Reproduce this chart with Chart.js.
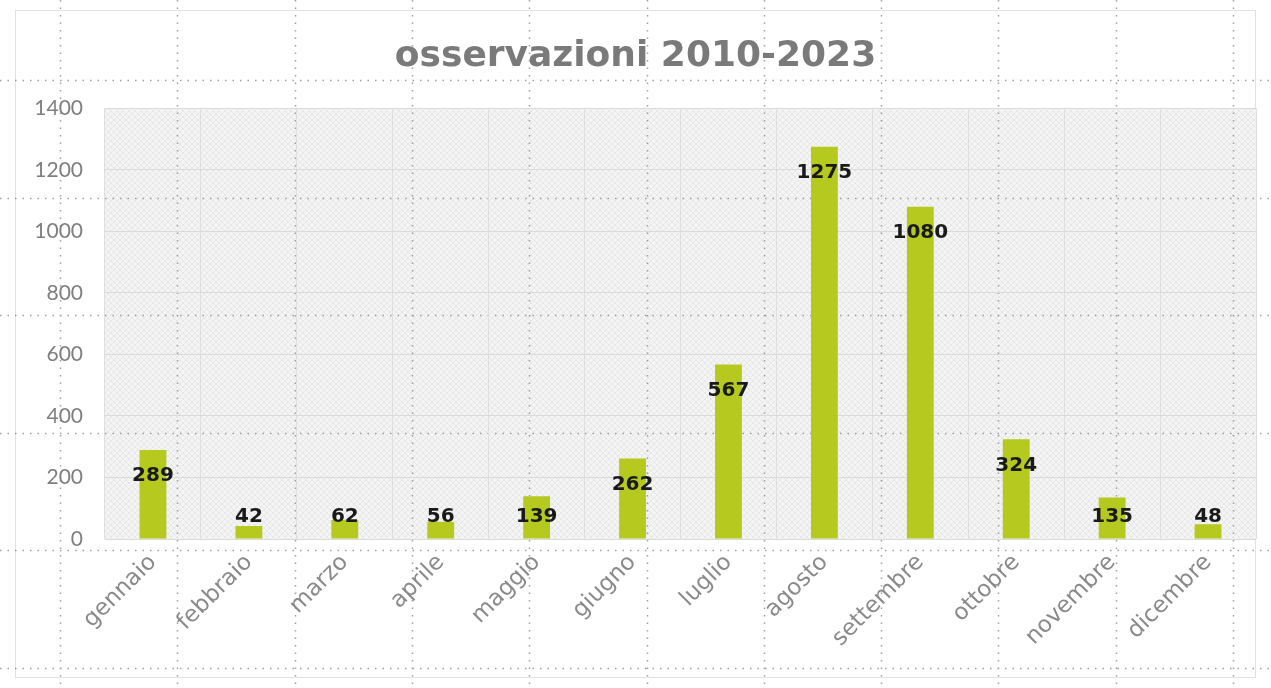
<!DOCTYPE html>
<html>
<head>
<meta charset="utf-8">
<script src="https://cdn.jsdelivr.net/npm/chart.js@4/dist/chart.umd.min.js"></script>
<style>
  html, body { margin: 0; padding: 0; background: #fff; }
  #wrap { width: 1271px; height: 688px; position: relative; }
</style>
</head>
<body>
<div id="wrap"><canvas id="chart"></canvas></div>
<script>
// dati
const months = ['gennaio','febbraio','marzo','aprile','maggio','giugno','luglio','agosto','settembre','ottobre','novembre','dicembre'];
const observations = [289, 42, 62, 56, 139, 262, 567, 1275, 1080, 324, 135, 48];
const yMax = 1400;
const yStep = 200;

const barColor = '#b6c91f';

// sfondo a righe puntinate del foglio + area del grafico tratteggiata
const sheetBackground = {
  id: 'sheetBackground',
  beforeDraw(chart) {
    const { ctx, width, height, chartArea: a } = chart;
    ctx.save();
    // cornice del grafico
    ctx.strokeStyle = '#e2e2e2';
    ctx.lineWidth = 1;
    ctx.strokeRect(15.5, 10.5, width - 31, height - 21);

    // area del tracciato: grigio chiaro con trama a rombi
    const p = document.createElement('canvas');
    p.width = 6; p.height = 6;
    const pc = p.getContext('2d');
    pc.fillStyle = '#f4f4f4';
    pc.fillRect(0, 0, 6, 6);
    pc.strokeStyle = '#e7e7e7';
    pc.lineWidth = 1;
    pc.beginPath();
    pc.moveTo(0, 0); pc.lineTo(6, 6);
    pc.moveTo(6, 0); pc.lineTo(0, 6);
    pc.stroke();
    ctx.fillStyle = ctx.createPattern(p, 'repeat');
    ctx.fillRect(a.left, a.top, a.right - a.left, a.bottom - a.top);

    // celle del foglio
    ctx.strokeStyle = 'rgba(120,120,120,0.7)';
    ctx.lineWidth = 1.5;
    ctx.setLineDash([1.5, 6]);
    ctx.beginPath();
    for (let x = 60; x < width; x += 117.3) {
      ctx.moveTo(Math.round(x) + 0.5, 0);
      ctx.lineTo(Math.round(x) + 0.5, height);
    }
    for (let y = 80; y < height; y += 117.5) {
      ctx.moveTo(0, Math.round(y) + 0.5);
      ctx.lineTo(width, Math.round(y) + 0.5);
    }
    ctx.stroke();
    ctx.restore();
  }
};

// etichette dei valori dentro la fine della barra
const valueLabels = {
  id: 'valueLabels',
  afterDatasetsDraw(chart) {
    const { ctx } = chart;
    const meta = chart.getDatasetMeta(0);
    const base = chart.scales.y.getPixelForValue(0);
    ctx.save();
    ctx.font = 'bold 20px "DejaVu Sans", sans-serif';
    ctx.fillStyle = '#1a1a1a';
    ctx.textAlign = 'center';
    ctx.textBaseline = 'middle';
    meta.data.forEach((bar, i) => {
      const y = Math.min(bar.y + 26, base - 22);
      ctx.fillText(String(observations[i]), bar.x, y);
    });
    ctx.restore();
  }
};

new Chart(document.getElementById('chart'), {
  type: 'bar',
  data: {
    labels: months,
    datasets: [{
      label: 'osservazioni',
      data: observations,
      backgroundColor: barColor,
      borderWidth: 0,
      barPercentage: 0.28,
      categoryPercentage: 1
    }]
  },
  options: {
    responsive: true,
    maintainAspectRatio: false,
    animation: false,
    layout: { padding: { top: 10, left: 15, right: 15, bottom: 10 } },
    plugins: {
      legend: { display: false },
      tooltip: { enabled: false },
      title: {
        display: true,
        text: 'osservazioni 2010-2023',
        color: '#7a7a7a',
        font: { family: '"DejaVu Sans", sans-serif', size: 36, weight: 'bold', lineHeight: 1.2 },
        padding: { top: 25, bottom: 30 }
      }
    },
    scales: {
      x: {
        grid: { color: '#dedede', lineWidth: 1, drawTicks: false, offset: true },
        border: { display: false },
        ticks: {
          autoSkip: false,
          minRotation: 45,
          maxRotation: 45,
          padding: 10,
          color: '#8a8a8a',
          font: { family: '"DejaVu Sans", sans-serif', size: 23 }
        },
        afterFit(scale) { scale.height = 139; }
      },
      y: {
        min: 0,
        max: yMax,
        grid: { color: '#dadada', lineWidth: 1, drawTicks: false },
        border: { display: false },
        ticks: {
          stepSize: yStep,
          padding: 22,
          color: '#7f7f7f',
          font: { family: 'Lato, sans-serif', size: 21 },
          callback: (v) => String(v)
        },
        afterFit(scale) { scale.width = 90; }
      }
    }
  },
  plugins: [sheetBackground, valueLabels]
});
</script>
</body>
</html>
